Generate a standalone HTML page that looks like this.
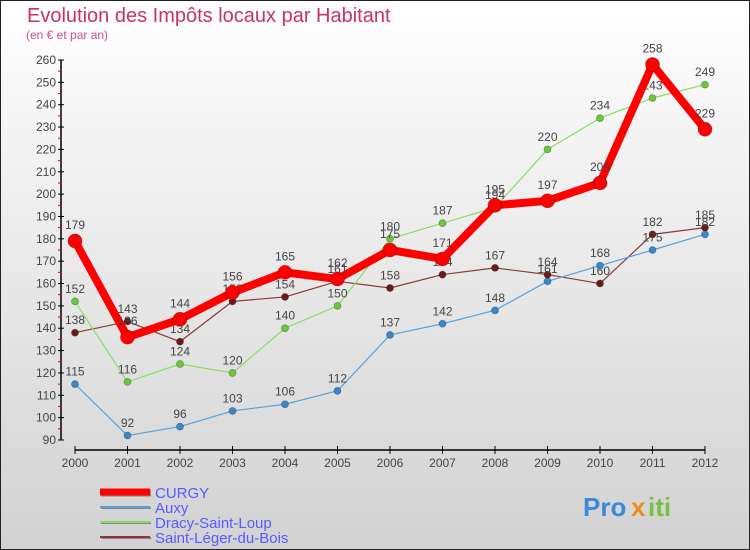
<!DOCTYPE html>
<html><head><meta charset="utf-8">
<style>
body{margin:0;}
#c{width:750px;height:550px;position:relative;overflow:hidden;font-family:"Liberation Sans",sans-serif;}
</style></head><body>
<div id="c">
<svg id="s" width="750" height="550" xmlns="http://www.w3.org/2000/svg">
<defs><linearGradient id="bg" x1="0" y1="0" x2="0" y2="1"><stop offset="0" stop-color="#ffffff"/><stop offset="1" stop-color="#d2d2d2"/></linearGradient></defs>
<rect x="0.5" y="0.5" width="749" height="549" fill="url(#bg)" stroke="#222"/>
<text x="27" y="22" font-size="20" fill="#c8326a">Evolution des Impôts locaux par Habitant</text>
<text x="26" y="39" font-size="12" fill="#c8508a">(en € et par an)</text>
<g id="axes"></g><g id="series"></g><g id="legend"></g>
<g font-size="26" font-weight="bold">
<text x="583" y="516" fill="#3a8ad6">Pro</text><text x="631" y="516" fill="#f08a1c">x</text><text x="648" y="516" fill="#7ac043">iti</text>
</g>
</svg>
</div>
<script>
const years=[2000,2001,2002,2003,2004,2005,2006,2007,2008,2009,2010,2011,2012];
const curgy=[179,136,144,156,165,162,175,171,195,197,205,258,229];
const auxy=[115,92,96,103,106,112,137,142,148,161,168,175,182];
const dracy=[152,116,124,120,140,150,180,187,194,220,234,243,249];
const leger=[138,143,134,152,154,161,158,164,167,164,160,182,185];
const yTicks=[90,100,110,120,130,140,150,160,170,180,190,200,210,220,230,240,250,260];
const NS="http://www.w3.org/2000/svg";
function X(i){return 75+i*52.5;}
function Y(v){return 440-(v-90)*380/170;}
function mk(t,a,p){const e=document.createElementNS(NS,t);for(const k in a)e.setAttribute(k,a[k]);p.appendChild(e);return e;}
const ax=document.getElementById('axes');
let l=mk('line',{x1:61,y1:Y(260),x2:61,y2:Y(90),stroke:'#000','stroke-width':1.5},ax);


yTicks.forEach(v=>{
 mk('line',{x1:58,y1:Y(v),x2:64,y2:Y(v),stroke:'#000'},ax);
 if(v<260)mk('line',{x1:58,y1:Y(v+5),x2:61,y2:Y(v+5),stroke:'#e00'},ax);
 const t=mk('text',{x:56,y:Y(v)+4,'font-size':12,fill:'#444','text-anchor':'end'},ax);t.textContent=v;
 
 
});
l=mk('line',{x1:X(0),y1:450,x2:X(12),y2:450,stroke:'#000','stroke-width':1.5},ax);


years.forEach((yr,i)=>{
 mk('line',{x1:X(i),y1:446,x2:X(i),y2:454,stroke:'#000'},ax);
 const t=mk('text',{x:X(i),y:467,'font-size':12,fill:'#444','text-anchor':'middle'},ax);t.textContent=yr;
 
 
});
const S=[
 {n:'Saint-Léger-du-Bois',d:leger,c:'#8b3a3a',pc:'#6b1a1a',w:1.2,r:3.5,k:'saint-leger'},
 {n:'Dracy-Saint-Loup',d:dracy,c:'#88dd66',pc:'#6cc83a',w:1.2,r:3.5,k:'dracy'},
 {n:'Auxy',d:auxy,c:'#5aa0d8',pc:'#3a88cc',w:1.2,r:3.5,k:'auxy'},
 {n:'CURGY',d:curgy,c:'#ff0000',pc:'#ff0000',w:8,r:7,k:'curgy'}];
const sg=document.getElementById('series');
S.forEach(s=>{
 const g=mk('g',{},sg);
 
 
 mk('polyline',{points:s.d.map((v,i)=>X(i)+','+Y(v)).join(' '),fill:'none',stroke:s.c,'stroke-width':s.w,'stroke-linejoin':'round'},g);
 s.d.forEach((v,i)=>{
  const p=mk('circle',{cx:X(i),cy:Y(v),r:s.r,fill:s.pc,stroke:'rgba(0,0,0,0.3)','stroke-width':0.8},g);
  
  
  const t=mk('text',{x:X(i),y:Y(v)-(s.r+5),'font-size':12,fill:'#444','text-anchor':'middle'},g);t.textContent=v;
  
  
 });
});
const lg=document.getElementById('legend');
[S[3],S[2],S[1],S[0]].forEach((s,i)=>{
 const y=492+i*15;
 const g=mk('g',{},lg);
 
 
 mk('line',{x1:101,y1:y+1,x2:151,y2:y+1,stroke:'#888','stroke-width':s.k==='curgy'?7:2},g);
 mk('line',{x1:100,y1:y,x2:150,y2:y,stroke:s.c,'stroke-width':s.k==='curgy'?7:2},g);
 const t=mk('text',{x:155,y:y+6,'font-size':15,fill:'#5a5aff'},g);t.textContent=s.n;
});
</script>
</body></html>
